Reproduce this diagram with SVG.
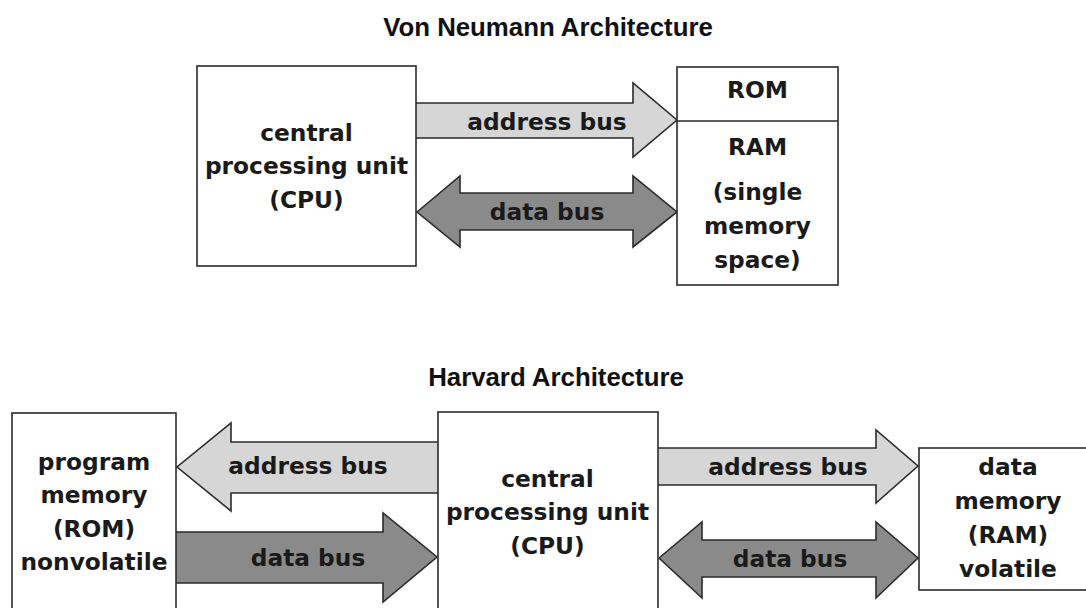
<svg xmlns="http://www.w3.org/2000/svg" width="1086" height="608" viewBox="0 0 1086 608">
<style>
.box{fill:#fff;stroke:#2b2b2b;stroke-width:1.6}
.light{fill:#d6d6d6;stroke:#2b2b2b;stroke-width:1.6;stroke-linejoin:miter}
.dark{fill:#8a8a8a;stroke:#2b2b2b;stroke-width:1.6;stroke-linejoin:miter}
.t{font-family:"DejaVu Sans",sans-serif;font-weight:bold;font-size:23.3px;fill:#1a1a1a;text-anchor:middle}
.title{font-family:"Liberation Sans",Arial,sans-serif;font-weight:bold;font-size:25.8px;fill:#111;text-anchor:middle}
</style>
<rect width="1086" height="608" fill="#fff"/>
<text class="title" x="548" y="36">Von Neumann Architecture</text>
<text class="title" x="556" y="386">Harvard Architecture</text>

<g id="connectors">
  <path class="light" d="M416,103 L633,103 L633,83 L677,120 L633,157 L633,138 L416,138"/>
  <path class="dark" d="M417,212 L460,176 L460,193 L633,193 L633,176 L677,212 L633,247 L633,230 L460,230 L460,247 Z"/>
  <path class="light" d="M438,442 L231,442 L231,423 L177,467 L231,511 L231,493 L438,493"/>
  <path class="dark" d="M176,532 L383,532 L383,513 L437,557 L383,602 L383,583 L176,583"/>
  <path class="light" d="M658,448 L876,448 L876,430 L918,466 L876,503 L876,485 L658,485"/>
  <path class="dark" d="M659,558 L702,522 L702,540 L876,540 L876,522 L918,558 L876,598 L876,577 L702,577 L702,598 Z"/>
  <text class="t" x="547" y="130">address bus</text>
  <text class="t" x="547" y="220">data bus</text>
  <text class="t" x="308" y="474">address bus</text>
  <text class="t" x="308" y="566">data bus</text>
  <text class="t" x="788" y="475">address bus</text>
  <text class="t" x="790" y="567">data bus</text>
</g>

<g id="vn-cpu">
  <rect class="box" x="197" y="66" width="219" height="200"/>
  <text class="t" x="306.5" y="141">central</text>
  <text class="t" x="306.5" y="174">processing unit</text>
  <text class="t" x="306.5" y="208">(CPU)</text>
</g>

<g id="vn-memory">
  <rect class="box" x="677" y="67" width="161" height="218"/>
  <line x1="677" y1="121" x2="838" y2="121" stroke="#2b2b2b" stroke-width="1.6"/>
  <text class="t" x="757.5" y="98">ROM</text>
  <text class="t" x="757.5" y="155">RAM</text>
  <text class="t" x="757.5" y="200">(single</text>
  <text class="t" x="757.5" y="234">memory</text>
  <text class="t" x="757.5" y="268">space)</text>
</g>

<g id="hv-program-memory">
  <rect class="box" x="12" y="413" width="164" height="220"/>
  <text class="t" x="94" y="470">program</text>
  <text class="t" x="94" y="503">memory</text>
  <text class="t" x="94" y="537">(ROM)</text>
  <text class="t" x="94" y="570">nonvolatile</text>
</g>

<g id="hv-cpu">
  <rect class="box" x="438" y="412" width="220" height="220"/>
  <text class="t" x="547.5" y="487">central</text>
  <text class="t" x="547.5" y="520">processing unit</text>
  <text class="t" x="547.5" y="554">(CPU)</text>
</g>

<g id="hv-data-memory">
  <rect class="box" x="919" y="448" width="180" height="142"/>
  <text class="t" x="1008" y="475">data</text>
  <text class="t" x="1008" y="509">memory</text>
  <text class="t" x="1008" y="543">(RAM)</text>
  <text class="t" x="1008" y="577">volatile</text>
</g>
</svg>
